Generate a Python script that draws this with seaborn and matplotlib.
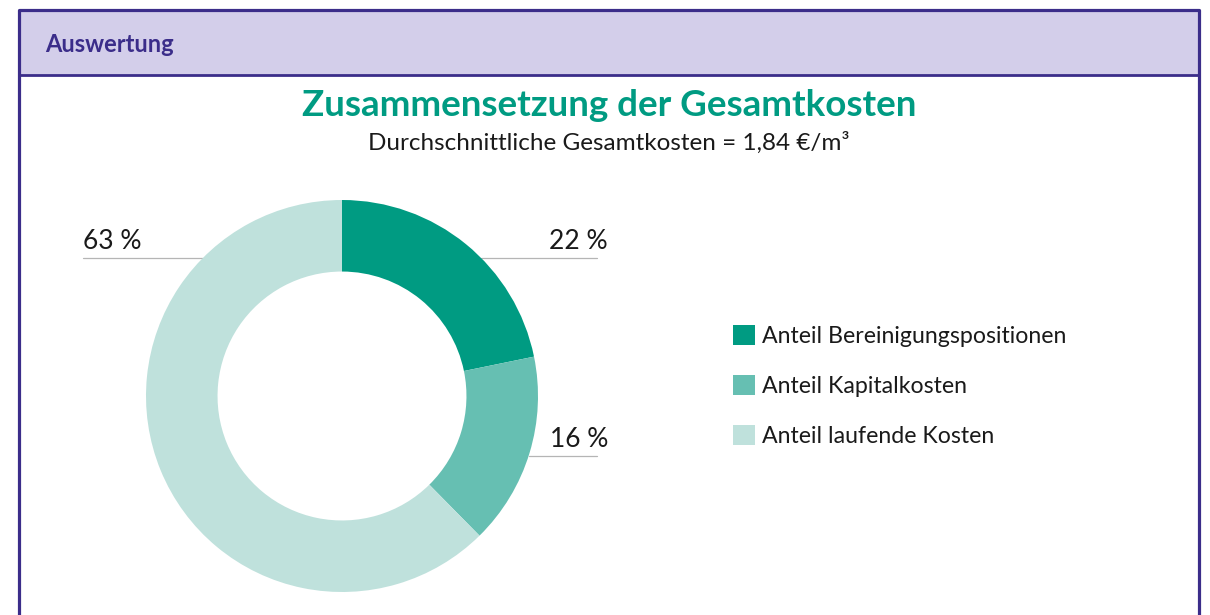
import matplotlib.pyplot as plt
import matplotlib.patches as mpatches
import seaborn as sns
import numpy as np

# data
categories = ["Anteil Bereinigungspositionen", "Anteil Kapitalkosten", "Anteil laufende Kosten"]
shares = [22, 16, 63]
colors = ["#009B82", "#66BFB2", "#BFE1DC"]
label_texts = ["22 %", "16 %", "63 %"]

sns.set_theme(style="white")
plt.rcParams['font.family'] = ['Lato', 'DejaVu Sans']

W, H = 1210, 615
fig = plt.figure(figsize=(W / 100, H / 100), dpi=100)
ax = fig.add_axes([0, 0, 1, 1])

purple = "#3B2D8A"

def py(y):
    # pixel row (top-down) -> axes y
    return H - y

# frame + header
ax.add_patch(mpatches.Rectangle((19, py(75)), 1180, 65, facecolor="#D3CEEA",
                                edgecolor="none", zorder=0))
ax.plot([19, 19], [py(10), -20], color=purple, lw=2.3, solid_capstyle="butt")
ax.plot([1199, 1199], [py(10), -20], color=purple, lw=2.3, solid_capstyle="butt")
ax.plot([19, 1199], [py(10), py(10)], color=purple, lw=2.3)
ax.plot([19, 1199], [py(75), py(75)], color=purple, lw=2.0)
ax.text(45, py(45), "Auswertung", color=purple, fontsize=17, fontweight="bold",
        ha="left", va="center")

# titles
ax.text(609, py(105), "Zusammensetzung der Gesamtkosten", color="#009B82",
        fontsize=26.5, fontweight="bold", ha="center", va="center")
ax.text(609, py(143), "Durchschnittliche Gesamtkosten = 1,84 €/m³", color="#1a1a1a",
        fontsize=17.5, ha="center", va="center")

# donut
cx, cy, R = 342, py(396), 196
wedges, _ = ax.pie(shares, colors=colors, startangle=90, counterclock=False,
                   center=(cx, cy), radius=R,
                   wedgeprops=dict(width=R * 0.365, edgecolor="none"))

# percentage labels with leader lines
label_rows = [258, 456, 258]
sides = [1, 1, -1]
for txt, row, side in zip(label_texts, label_rows, sides):
    y = py(row)
    x0 = cx + side * np.sqrt(R ** 2 - (y - cy) ** 2)
    x1 = cx + side * 255 if side > 0 else 83
    ax.plot([x0, x1], [y, y], color="#b5b5b5", lw=0.9, zorder=0)
    if side > 0:
        ax.text(608, y + 4, txt, ha="right", va="bottom", fontsize=19, color="#1a1a1a")
    else:
        ax.text(83, y + 4, txt, ha="left", va="bottom", fontsize=19, color="#1a1a1a")

# legend
ax.legend(wedges, categories, loc="upper left", bbox_to_anchor=(733, py(325)),
          bbox_transform=ax.transData, frameon=False, fontsize=16.7,
          handlelength=0.95, handleheight=0.95, handletextpad=0.3,
          labelspacing=1.2, borderpad=0, borderaxespad=0, labelcolor="#1a1a1a")

ax.set_xlim(0, W)
ax.set_ylim(0, H)
ax.set_aspect("equal")
ax.axis("off")

fig.savefig("out.png", dpi=100, facecolor="white")
